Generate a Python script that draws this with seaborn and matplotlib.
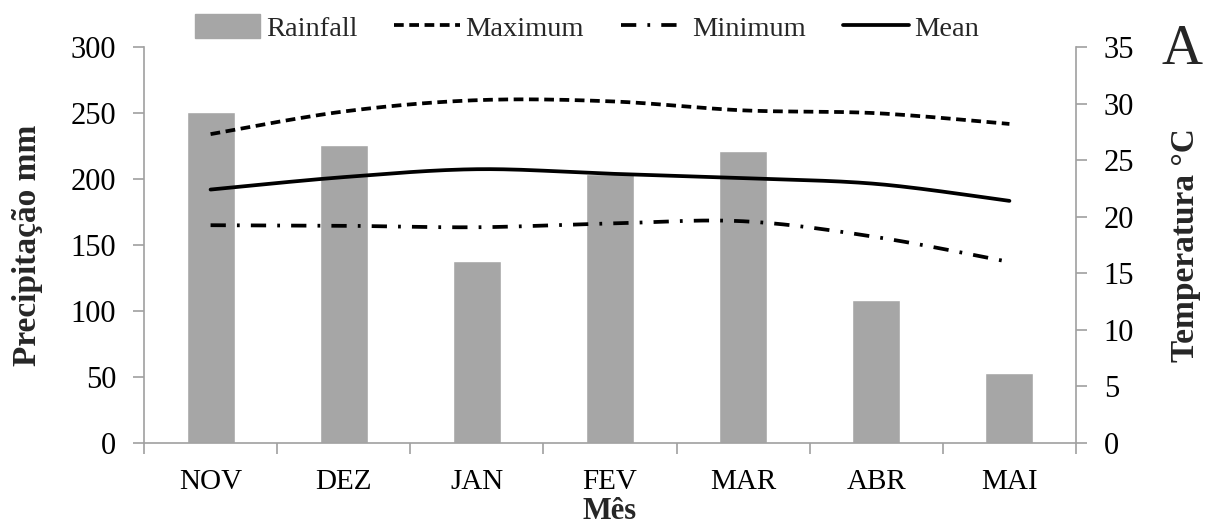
import numpy as np
import pandas as pd
import matplotlib
matplotlib.use("Agg")
import matplotlib.pyplot as plt
import seaborn as sns
from matplotlib.patches import Patch
from matplotlib.lines import Line2D

months = ["NOV", "DEZ", "JAN", "FEV", "MAR", "ABR", "MAI"]
rainfall = [251, 226, 138, 204, 221, 108, 53]
t_max = [27.3, 29.3, 30.3, 30.2, 29.4, 29.15, 28.2]
t_min = [19.25, 19.2, 19.07, 19.4, 19.6, 18.2, 16.0]
t_mean = [22.4, 23.5, 24.2, 23.8, 23.4, 22.9, 21.4]

sns.set_theme(style="white")
plt.rcParams["font.family"] = ["Liberation Serif", "DejaVu Serif"]
plt.rcParams["lines.scale_dashes"] = False

GRAY = "#a6a6a6"
AX = "#a0a0a0"
LW = 2.7

fig = plt.figure(figsize=(12.06, 5.32), dpi=100)
ax = fig.add_axes([144 / 1206, 1 - 443 / 532, 932 / 1206, 396 / 532])

df = pd.DataFrame({"Mês": months, "Rain": rainfall})
sns.barplot(data=df, x="Mês", y="Rain", order=months, color=GRAY,
            saturation=1, width=0.36, ax=ax)
ax.set_xlim(-0.5, 6.5)
ax.set_ylim(0, 300)
ax.set_yticks(np.arange(0, 301, 50))


def smooth(y, n=30):
    y = np.asarray(y, float)
    x = np.arange(len(y), dtype=float)
    p = np.column_stack([x, y])
    pts = np.vstack([p[0], p, p[-1]])
    out = []
    for i in range(1, len(pts) - 2):
        p0, p1, p2, p3 = pts[i - 1], pts[i], pts[i + 1], pts[i + 2]
        t = np.linspace(0, 1, n, endpoint=False)[:, None]
        c1 = p1 + (p2 - p0) / 6
        c2 = p2 - (p3 - p1) / 6
        b = ((1 - t) ** 3) * p1 + 3 * ((1 - t) ** 2) * t * c1 + 3 * (1 - t) * t ** 2 * c2 + t ** 3 * p2
        out.append(b)
    out.append(p[-1][None, :])
    out = np.vstack(out)
    return out[:, 0], out[:, 1]


MAXLS = (0, (7, 4))
MINLS = (0, (11, 8, 2, 8))

ax2 = ax.twinx()
styles = {
    "Maximum": (t_max, MAXLS),
    "Minimum": (t_min, MINLS),
    "Mean": (t_mean, "-"),
}
for name, (vals, ls) in styles.items():
    xs, ys = smooth(vals)
    sns.lineplot(x=xs, y=ys, ax=ax2, color="black", linewidth=LW,
                 linestyle=ls, sort=False, estimator=None)
ax2.set_ylim(0, 35)
ax2.set_yticks(np.arange(0, 36, 5))

for a in (ax, ax2):
    for s in a.spines.values():
        s.set_color(AX)
        s.set_linewidth(1.2)
    a.spines["top"].set_visible(False)

ax.spines["right"].set_visible(False)
ax2.spines["left"].set_visible(False)
ax2.spines["bottom"].set_visible(False)

fs = 22
ax.set_xticks(range(7))
ax.set_xticklabels(months)
ax.set_xticks(np.arange(-0.5, 7, 1), minor=True)
ax.tick_params(axis="x", which="major", length=0, pad=19, labelsize=21, colors="black")
ax.tick_params(axis="x", which="minor", length=8, color=AX, width=1.2, bottom=True)
ax.tick_params(axis="y", which="major", length=8, color=AX, width=1.2, left=True,
               labelsize=fs, pad=12, labelcolor="black")
ax2.tick_params(axis="y", which="major", length=8, color=AX, width=1.2, right=True,
                labelsize=fs, pad=12, labelcolor="black")

ax.set_xlabel("Mês", fontsize=22, fontweight="bold", labelpad=1)
ax.set_ylabel("Precipitação mm", fontsize=24, fontweight="bold", labelpad=20)
ax2.set_ylabel("Temperatura °C", fontsize=24, fontweight="bold", labelpad=26)
ax.grid(False)
ax2.grid(False)

fig.text(1182 / 1206, 1 - 50 / 532, "A", fontsize=41, ha="center", va="center")

handles = [
    Patch(facecolor=GRAY, edgecolor=GRAY),
    Line2D([], [], color="black", lw=LW, linestyle=MAXLS),
    Line2D([], [], color="black", lw=LW, linestyle=MINLS),
    Line2D([], [], color="black", lw=LW, linestyle="-"),
]
fig.legend(handles, ["Rainfall", "Maximum", "Minimum", "Mean"], loc="center",
           bbox_to_anchor=(587 / 1206, 1 - 28 / 532), ncol=4, frameon=False,
           fontsize=20.5, handlelength=2.3, handletextpad=0.2, columnspacing=1.3,
           handleheight=0.9, borderpad=0)

fig.savefig("out.png", dpi=100, facecolor="white")
